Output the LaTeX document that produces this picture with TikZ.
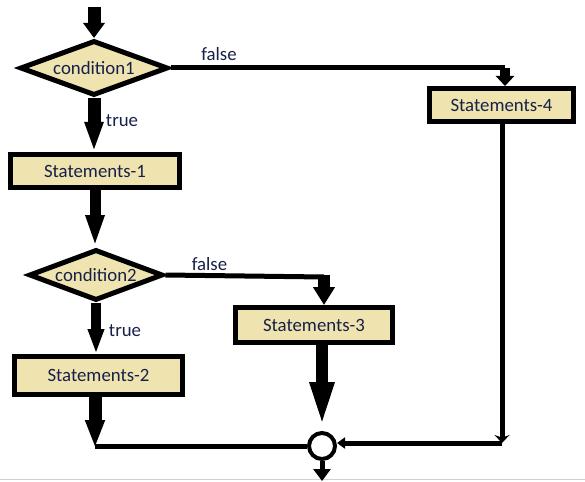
\documentclass[tikz,border=0pt]{standalone}
\usepackage{fontspec}
\setmainfont{Carlito}
\usetikzlibrary{arrows.meta,shapes.geometric}
\definecolor{boxfill}{RGB}{239,228,176}
\definecolor{txt}{RGB}{22,32,72}
\begin{document}
\begin{tikzpicture}[x=1pt,y=-1pt,
  every node/.style={font=\fontsize{18.8}{22}\selectfont, text=txt},
  stmt/.style={draw=black, line width=5pt, fill=boxfill, inner sep=0pt},
  cond/.style={diamond, draw=black, line width=5pt, fill=boxfill, inner sep=0pt, aspect=2.7, miter limit=10},
  lbl/.style={inner sep=0pt},
  flow/.style={line width=5pt, line cap=butt},
  merge/.style={circle, draw=black, line width=4pt, fill=white, minimum size=26pt, inner sep=0pt}
]
\useasboundingbox (0,0) rectangle (585,481);
\draw[line width=1.2pt, black!18] (0,479.6) -- (585,479.6);

% nodes
\node[cond, minimum width=148pt, minimum height=55pt] (c1) at (94,68) {condition1};
\node[stmt, minimum width=169pt, minimum height=33pt] (s1) at (95,171) {Statements-1};
\node[cond, minimum width=134pt, minimum height=51pt] (c2) at (96,275) {condition2};
\node[stmt, minimum width=168pt, minimum height=38pt] (s2) at (98.5,375.5) {Statements-2};
\node[stmt, minimum width=157pt, minimum height=35pt] (s3) at (314,325) {Statements-3};
\node[stmt, minimum width=144pt, minimum height=33pt] (s4) at (501.5,105) {Statements-4};
\node[merge] (m) at (322,446) {};

% helper coordinates
\coordinate (top) at (94,7);
\coordinate (k1) at (505,68);
\coordinate (k1b) at (505,77);
\coordinate (k2) at (324,277);
\coordinate (k2b) at (324,287);
\coordinate (j2) at (95,448);
\coordinate (j4) at (502,443);
\coordinate (bot) at (322,481);

% connectors
\draw[line width=13pt, -{Triangle[length=15pt,width=21pt]}] (top) -- (c1.north);

\draw[flow] (c1.east) -- (k1);
\draw[line width=10pt, -{Triangle[length=10pt,width=18pt]}] (k1) -- (k1 |- s4.north);
\node[lbl] at (219,54) {false};

\draw[line width=13pt, -{Triangle[length=30pt,width=17pt]}] (c1.south) -- (c1.south |- s1.north);
\node[lbl] at (122,121) {true};

\draw[line width=11pt, -{Triangle[length=32pt,width=17pt]}] (s1.south) -- (s1.south |- c2.north);

\draw[flow] (c2.east) -- (k2);
\draw[line width=12pt, -{Triangle[length=18pt,width=21pt]}] ([yshift=2.5pt]k2) -- (k2 |- s3.north);
\node[lbl] at (209.5,264.5) {false};

\draw[line width=10pt, -{Triangle[length=25pt,width=15pt]}] (c2.south) -- (c2.south |- s2.north);
\node[lbl] at (125,331) {true};

\draw[line width=13pt, -{Triangle[length=28pt,width=18pt]}] (s2.south -| j2) -- (j2);
\draw[flow] ([yshift=2pt]j2) -- (m.west);

\draw[line width=12pt, -{Triangle[length=49pt,width=21pt]}] (s3.south -| m.north) -- (m.north);

\draw[flow, -{Stealth[length=8pt,width=15pt]}] (s4.south -| j4) -- (j4);
\draw[flow, -{Triangle[length=8pt,width=11pt]}] (j4) -- (j4 -| m.east);

\draw[line width=5pt, -{Triangle[length=12pt,width=17pt]}] (m.south) -- (bot);
\end{tikzpicture}
\end{document}
